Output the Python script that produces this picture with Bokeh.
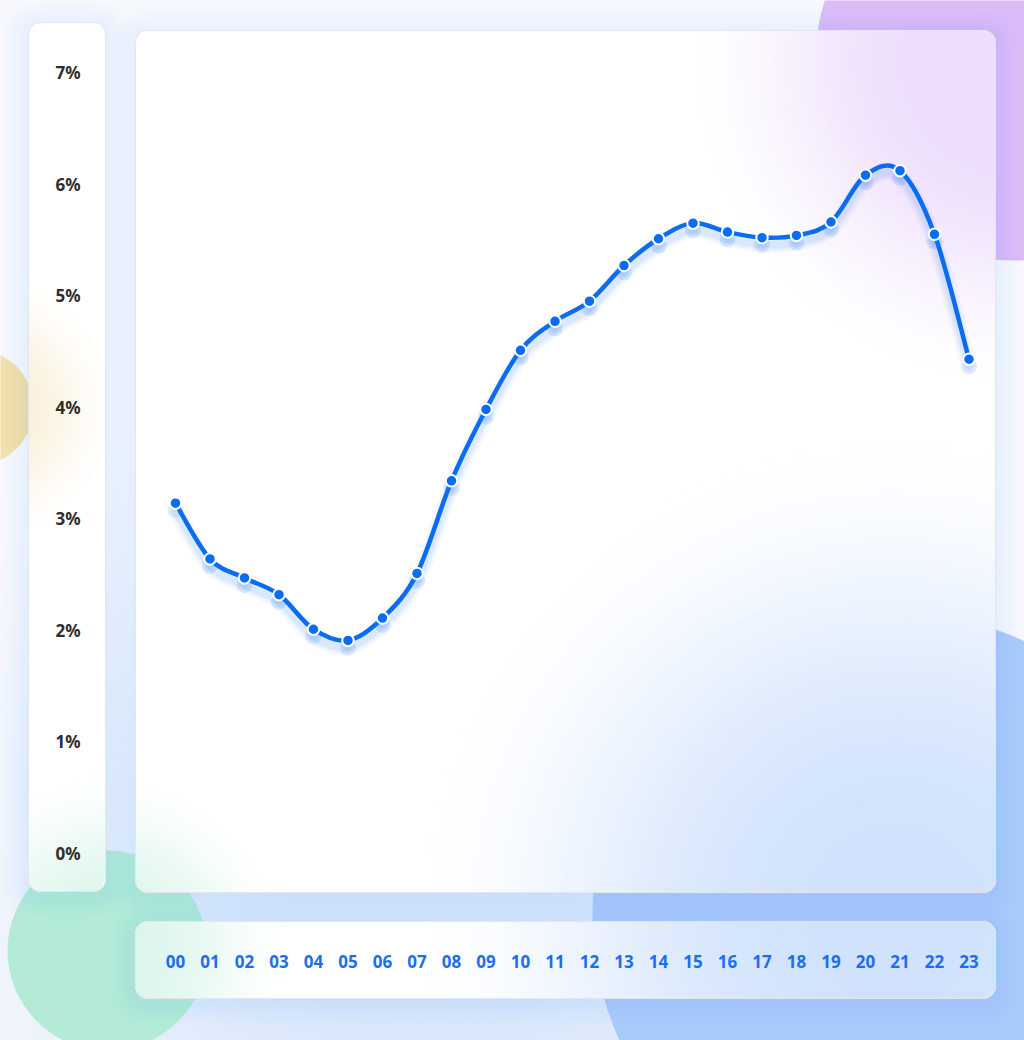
import numpy as np

from bokeh.embed import file_html
from bokeh.models import ColumnDataSource, FixedTicker, LinearAxis, Range1d
from bokeh.plotting import figure
from bokeh.resources import INLINE

# share of the day's activity per hour, in percent
hours = list(range(24))
hour_labels = ["00", "01", "02", "03", "04", "05", "06", "07", "08", "09", "10", "11",
               "12", "13", "14", "15", "16", "17", "18", "19", "20", "21", "22", "23"]
share = [3.14, 2.64, 2.47, 2.32, 2.01, 1.91, 2.11, 2.51, 3.34, 3.98, 4.51, 4.77,
         4.95, 5.27, 5.51, 5.65, 5.57, 5.52, 5.54, 5.66, 6.08, 6.12, 5.55, 4.43]
pct_ticks = [0, 1, 2, 3, 4, 5, 6, 7]
pct_labels = ["0%", "1%", "2%", "3%", "4%", "5%", "6%", "7%"]

# page geometry, in window pixels
W, H = 1024, 1040
HOUR0_X, HOUR_W = 175, 34.5      # where hour 0 sits, pixels per hour
ZERO_Y, PCT_H = 853, 111.57      # where 0% sits, pixels per percent

BG = "#f6f8fd"
LINE = "#0a6cf1"

# cards: left, top, right, bottom (pixels)
cards = [(28, 22, 105, 891), (135, 30, 995, 892), (135, 921, 995, 998)]
RADIUS = 12

# colour blobs behind the glass: cx, cy, r, colour, glow inner/outer radius, glow strength
blobs = [
    (1015, 60, 200, "#dcbcf8", 90, 340, 0.5),
    (-25, 407, 58, "#f3e0ad", 30, 150, 0.5),
    (107, 950, 100, "#b4ebd7", 40, 190, 0.45),
    (895, 915, 303, "#a9cbfa", 80, 500, 0.55),
]
glow_colors = ["#dcbcf8", "#f3e0ad", "#b4ebd7", "#acccfa"]


def mix(color, m, base="#ffffff"):
    c = np.array([int(color[i:i + 2], 16) for i in (1, 3, 5)], dtype=float)
    w = np.array([int(base[i:i + 2], 16) for i in (1, 3, 5)], dtype=float)
    out = w + (c - w) * m
    return "#%02x%02x%02x" % tuple(int(round(v)) for v in out)


def smooth(rr, r_in, r_out):
    t = min(max((r_out - rr) / (r_out - r_in), 0), 1)
    return t * t * (3 - 2 * t)


def clip_round(xs, ys, box, rad):
    l, t, r, b = box
    xs = np.clip(xs, l, r)
    ys = np.clip(ys, t, b)
    for ccx, ccy, sx, sy in ((l + rad, t + rad, -1, -1), (r - rad, t + rad, 1, -1),
                             (r - rad, b - rad, 1, 1), (l + rad, b - rad, -1, 1)):
        dx, dy = xs - ccx, ys - ccy
        d = np.hypot(dx, dy)
        out = (sx * dx > 0) & (sy * dy > 0) & (d > rad)
        xs[out] = ccx + dx[out] / d[out] * rad
        ys[out] = ccy + dy[out] / d[out] * rad
    return xs, ys


def pct_range(shift=0):
    return Range1d((ZERO_Y + shift - H) / PCT_H, (ZERO_Y + shift) / PCT_H)


p = figure(
    width=W, height=H,
    x_range=Range1d(0, W), y_range=Range1d(-H, 0),
    x_axis_type=None, y_axis_type=None,
    toolbar_location=None, output_backend="svg", min_border=0,
)
p.extra_x_ranges = {"hour": Range1d(-HOUR0_X / HOUR_W, (W - HOUR0_X) / HOUR_W)}
p.extra_y_ranges = {"pct": pct_range(), "shade": pct_range(7)}
p.grid.visible = False
p.outline_line_color = None
p.background_fill_color = BG
p.border_fill_color = BG

# soft blue wash low in the page
wash_r = np.arange(600, 99, -6)
p.circle(x=430, y=-905, radius=wash_r,
         fill_color=[mix("#dae7fb", smooth(r, 100, 600), BG) for r in wash_r], line_color=None)

# sharp blobs
for cx, cy, r, color, *_ in blobs:
    p.circle(x=cx, y=-cy, radius=r, fill_color=color, line_color=None)

# soft card shadows
for e in range(3, 27, 3):
    p.quad(
        left=[c[0] - e for c in cards], right=[c[2] + e for c in cards],
        top=[-(c[1] - e + 3) for c in cards], bottom=[-(c[3] + e + 3) for c in cards],
        border_radius=RADIUS + e, fill_color="#5a8fe8", fill_alpha=0.01, line_color=None,
    )

# cards
card_src = dict(left=[c[0] for c in cards], right=[c[2] for c in cards],
                top=[-c[1] for c in cards], bottom=[-c[3] for c in cards])
p.quad(**card_src, border_radius=RADIUS, fill_color="white", line_color=None)

# blurred blobs seen through the glass
theta = np.linspace(0, 2 * np.pi, 200)
gx, gy, gc = [], [], []
for (cx, cy, r, _, g_in, g_out, g_max), color in zip(blobs, glow_colors):
    for box in cards:
        for rr in np.arange(g_out, g_in - 1, -3):
            xs, ys = clip_round(cx + rr * np.cos(theta), cy + rr * np.sin(theta), box, RADIUS)
            area = 0.5 * abs(np.dot(xs, np.roll(ys, 1)) - np.dot(ys, np.roll(xs, 1)))
            if area < 2:
                continue
            gx.append(list(xs))
            gy.append(list(-ys))
            gc.append(mix(color, g_max * smooth(rr, g_in, g_out)))
p.patches("xs", "ys", source=ColumnDataSource(dict(xs=gx, ys=gy, c=gc)),
          fill_color="c", line_color=None)
p.quad(**card_src, border_radius=RADIUS, fill_color=None, line_color="#e1e6ef", line_width=1)

# smooth curve through the points (Catmull-Rom as cubic beziers)
xv = np.array(hours, dtype=float)
yv = np.array(share)
xp = np.concatenate([[xv[0]], xv, [xv[-1]]])
yp = np.concatenate([[yv[0]], yv, [yv[-1]]])
curve = ColumnDataSource(dict(
    x0=xv[:-1], y0=yv[:-1], x1=xv[1:], y1=yv[1:],
    cx0=xv[:-1] + (xp[2:-1] - xp[:-3]) / 6, cy0=yv[:-1] + (yp[2:-1] - yp[:-3]) / 6,
    cx1=xv[1:] - (xp[3:] - xp[1:-2]) / 6, cy1=yv[1:] - (yp[3:] - yp[1:-2]) / 6,
))
for w, a in ((16, 0.05), (11, 0.06), (7, 0.07)):
    p.bezier(x0="x0", y0="y0", x1="x1", y1="y1", cx0="cx0", cy0="cy0", cx1="cx1", cy1="cy1",
             source=curve, line_color="#2a7cf6", line_width=w, line_alpha=a,
             line_cap="round", x_range_name="hour", y_range_name="shade")
p.bezier(x0="x0", y0="y0", x1="x1", y1="y1", cx0="cx0", cy0="cy0", cx1="cx1", cy1="cy1",
         source=curve, line_color=LINE, line_width=4.5, line_cap="round",
         x_range_name="hour", y_range_name="pct")

pts = ColumnDataSource(dict(hour=hours, share=share))
p.scatter("hour", "share", source=pts, size=16, fill_color="#2a7cf6", fill_alpha=0.1,
          line_color=None, x_range_name="hour", y_range_name="shade")
p.scatter("hour", "share", source=pts, size=11.5, fill_color=LINE, line_color="white",
          line_width=2, x_range_name="hour", y_range_name="pct")

# axes drawn inside their own glass cards
yaxis = LinearAxis(y_range_name="pct", fixed_location=80,
                   ticker=FixedTicker(ticks=pct_ticks),
                   major_label_overrides=dict(zip(pct_ticks, pct_labels)))
xaxis = LinearAxis(x_range_name="hour", fixed_location=-954,
                   ticker=FixedTicker(ticks=hours),
                   major_label_overrides=dict(zip(hours, hour_labels)))
for ax, color in ((yaxis, "#2d2d2d"), (xaxis, "#1b6ef0")):
    ax.axis_line_color = None
    ax.major_tick_line_color = None
    ax.minor_tick_line_color = None
    ax.major_tick_out = 0
    ax.major_label_standoff = 0
    ax.major_label_text_font = "Noto Sans"
    ax.major_label_text_font_style = "bold"
    ax.major_label_text_font_size = "17px"
    ax.major_label_text_color = color
p.add_layout(yaxis, "left")
p.add_layout(xaxis, "below")

open("out.html", "w").write(file_html(p, INLINE))
